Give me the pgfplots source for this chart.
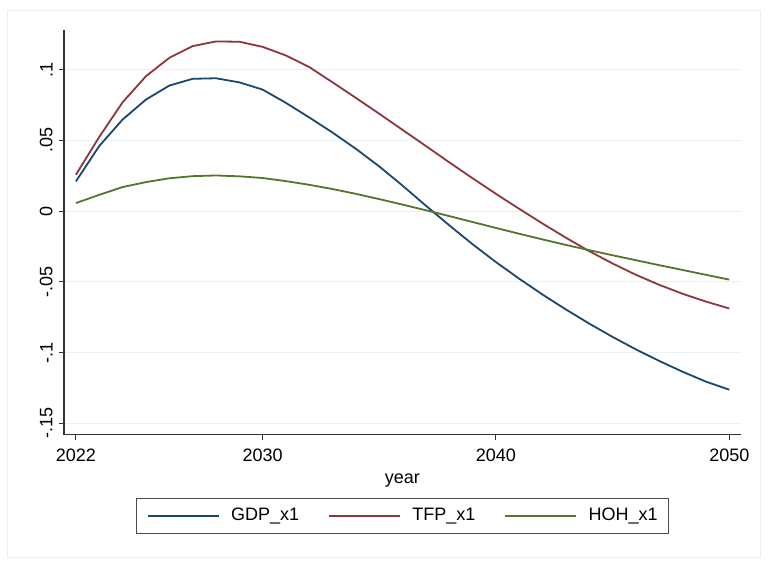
\documentclass[border=0pt]{standalone}
\usepackage{pgfplots}
\pgfplotsset{compat=1.18}
\usepackage{fontspec}
\setmainfont{Liberation Sans}
\definecolor{gdp}{HTML}{1A476F}
\definecolor{tfp}{HTML}{90353B}
\definecolor{hoh}{HTML}{55752F}
\definecolor{gridc}{RGB}{232,241,243}
\begin{document}
\fontsize{9}{11}\selectfont
\begin{tikzpicture}[font=\fontsize{9}{11}\selectfont]
\useasboundingbox (-32pt,-71.65pt) rectangle (353pt,217.35pt);
\fill[white] (-32pt,-71.65pt) rectangle (353pt,217.35pt);
\draw[gridc, line width=0.5pt] (-28pt,-61.15pt) rectangle (348pt,211.85pt);
\begin{axis}[
  at={(0pt,0pt)}, anchor=south west, scale only axis,
  width=338.35pt, height=202.35pt,
  xmin=2021.49, xmax=2050.49, ymin=-0.158, ymax=0.128,
  axis x line*=bottom, axis y line*=left,
  axis line style={black!80, line width=0.6pt},
  xtick={2022,2030,2040,2050}, xticklabels={2022,2030,2040,2050},
  ytick={-0.15,-0.1,-0.05,0,0.05,0.1}, yticklabels={-.15,-.1,-.05,0,.05,.1},
  tick align=outside, major tick length=2.5pt,
  tick style={black!80, line width=0.5pt},
  minor tick num=0,
  ymajorgrids, grid style={gridc, line width=0.5pt},
  yticklabel style={rotate=90, anchor=south},
  xticklabel style={yshift=-1.5pt},
  xlabel={year},
  legend columns=3,
  legend cell align=left,
  legend image code/.code={\draw[#1] (0pt,0pt) -- (35.5pt,0pt);},
  legend style={at={(rel axis cs:0.5,0)}, anchor=north, yshift=-31.5pt,
    draw=black!70, line width=0.5pt, inner xsep=5.3pt, inner ysep=5.1pt,
    nodes={inner sep=0pt},
    /tikz/every odd column/.append style={column sep=5.7pt},
    /tikz/every even column/.append style={column sep=14.5pt}},
]
\addplot[gdp, line width=0.9pt] coordinates {
(2022,0.0210) (2023,0.0460) (2024,0.0647) (2025,0.0788) (2026,0.0887)
(2027,0.0935) (2028,0.0939) (2029,0.0910) (2030,0.0859) (2031,0.0765)
(2032,0.0662) (2033,0.0555) (2034,0.0440) (2035,0.0316) (2036,0.0180)
(2037,0.0038) (2038,-0.0100) (2039,-0.0234) (2040,-0.0360) (2041,-0.0478)
(2042,-0.0590) (2043,-0.0695) (2044,-0.0795) (2045,-0.0889) (2046,-0.0977)
(2047,-0.1059) (2048,-0.1135) (2049,-0.1205) (2050,-0.1262)
};
\addlegendentry{GDP\_x1}
\addplot[tfp, line width=0.9pt] coordinates {
(2022,0.0257) (2023,0.0524) (2024,0.0769) (2025,0.0953) (2026,0.1083)
(2027,0.1166) (2028,0.1199) (2029,0.1197) (2030,0.1161) (2031,0.1100)
(2032,0.1018) (2033,0.0910) (2034,0.0800) (2035,0.0688) (2036,0.0574)
(2037,0.0460) (2038,0.0345) (2039,0.0232) (2040,0.0122) (2041,0.0016)
(2042,-0.0088) (2043,-0.0188) (2044,-0.0283) (2045,-0.0370) (2046,-0.0450)
(2047,-0.0521) (2048,-0.0584) (2049,-0.0639) (2050,-0.0688)
};
\addlegendentry{TFP\_x1}
\addplot[hoh, line width=0.9pt] coordinates {
(2022,0.0057) (2023,0.0115) (2024,0.0170) (2025,0.0205) (2026,0.0232)
(2027,0.0247) (2028,0.0252) (2029,0.0246) (2030,0.0234) (2031,0.0212)
(2032,0.0186) (2033,0.0156) (2034,0.0122) (2035,0.0085) (2036,0.0046)
(2037,0.0006) (2038,-0.0035) (2039,-0.0077) (2040,-0.0119) (2041,-0.0160)
(2042,-0.0200) (2043,-0.0239) (2044,-0.0276) (2045,-0.0312) (2046,-0.0347)
(2047,-0.0382) (2048,-0.0416) (2049,-0.0450) (2050,-0.0484)
};
\addlegendentry{HOH\_x1}
\end{axis}
\end{tikzpicture}
\end{document}
